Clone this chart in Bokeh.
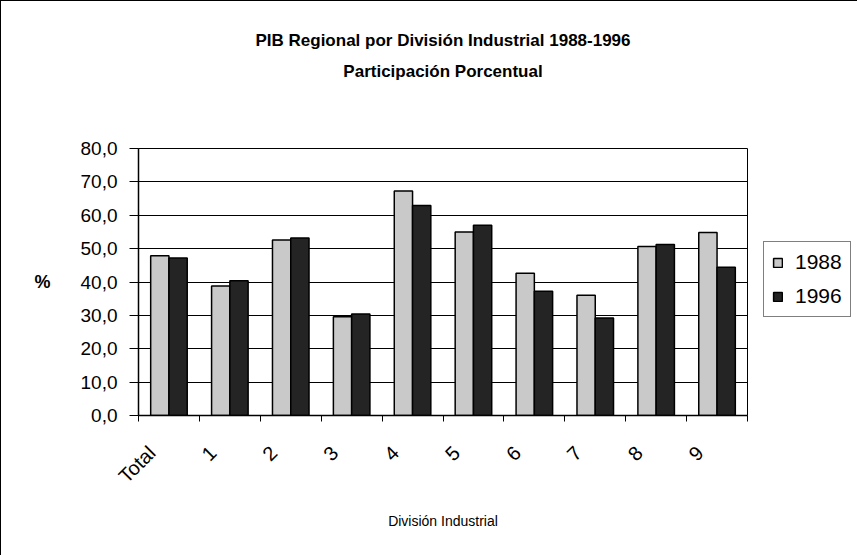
from bokeh.plotting import figure
from bokeh.models import (Range1d, FixedTicker, Title, Legend, LegendItem, ColumnDataSource)
from bokeh.embed import file_html
from bokeh.resources import INLINE
import math

categories = ["Total", "1", "2", "3", "4", "5", "6", "7", "8", "9"]
v1988 = [47.9, 38.8, 52.6, 29.6, 67.3, 55.0, 42.6, 36.0, 50.6, 54.8]
v1996 = [47.2, 40.4, 53.2, 30.4, 62.9, 57.0, 37.2, 29.2, 51.2, 44.4]
y_ticks = [0, 10, 20, 30, 40, 50, 60, 70, 80]
y_tick_labels = ["0,0", "10,0", "20,0", "30,0", "40,0", "50,0", "60,0", "70,0", "80,0"]

FONT = "Liberation Sans"
n = len(categories)
centers = [i + 0.5 for i in range(n)]
bw = 0.30
LABEL_SHIFT = 0.28  # rotated labels end a little left of the category centre

ML, MR, MT, MB = 137, 111, 147, 141
p = figure(frame_width=609, frame_height=267, output_backend="svg", toolbar_location=None,
           x_range=Range1d(0, n), y_range=Range1d(0, 80),
           min_border_left=ML, min_border_right=MR, min_border_top=MT, min_border_bottom=MB,
           styles={"border-top": "1px solid black", "border-left": "1px solid black"})
p.background_fill_color = "white"
p.border_fill_color = "white"
p.outline_line_color = "black"
p.outline_line_width = 1

src = ColumnDataSource(dict(x88=[c - bw / 2 for c in centers], x96=[c + bw / 2 for c in centers],
                            v88=v1988, v96=v1996))
r1 = p.vbar(x="x88", top="v88", width=bw, source=src, fill_color="#c9c9c9",
            line_color="black", line_width=1.5)
r2 = p.vbar(x="x96", top="v96", width=bw, source=src, fill_color="#242424",
            line_color="black", line_width=1.5)

# x axis
label_pos = [c - LABEL_SHIFT for c in centers]
xa = p.xaxis[0]
xa.ticker = FixedTicker(ticks=label_pos, minor_ticks=list(range(n + 1)))
xa.major_label_overrides = {c: lab for c, lab in zip(label_pos, categories)}
xa.major_tick_line_color = None
xa.minor_tick_line_color = "black"
xa.minor_tick_out = 6
xa.minor_tick_in = 0
xa.major_label_orientation = math.pi / 4
xa.major_label_text_font = FONT
xa.major_label_text_font_size = "20px"
xa.major_label_text_color = "black"
xa.major_label_standoff = 28
xa.axis_line_color = "black"
xa.axis_line_width = 1.5
xa.axis_label = "División Industrial"
xa.axis_label_text_font = FONT
xa.axis_label_text_font_size = "14px"
xa.axis_label_text_font_style = "normal"
xa.axis_label_text_color = "black"
xa.axis_label_standoff = 15

# y axis
ya = p.yaxis[0]
ya.ticker = FixedTicker(ticks=y_ticks, minor_ticks=[])
ya.major_label_overrides = {t: s for t, s in zip(y_ticks, y_tick_labels)}
ya.major_tick_out = 9
ya.major_tick_in = 0
ya.major_tick_line_color = "black"
ya.major_label_text_font = FONT
ya.major_label_text_font_size = "19px"
ya.major_label_text_color = "black"
ya.major_label_standoff = 12
ya.axis_line_color = "black"
ya.axis_line_width = 1.5
ya.axis_label = "%"
ya.axis_label_orientation = "horizontal"
ya.axis_label_text_font = FONT
ya.axis_label_text_font_size = "18px"
ya.axis_label_text_font_style = "bold"
ya.axis_label_text_color = "black"
ya.axis_label_standoff = 27

p.xgrid.grid_line_color = None
p.ygrid.grid_line_color = "black"
p.ygrid.grid_line_width = 1

# titles: a blank spacer nearest the plot, then the second line, then the first
p.add_layout(Title(text=" ", standoff=42, text_font=FONT, text_font_size="17px"), "above")
p.add_layout(Title(text="Participación Porcentual", align="center", text_font=FONT,
                   text_font_style="bold", text_font_size="17px", text_color="black"), "above")
p.add_layout(Title(text="PIB Regional por División Industrial 1988-1996", align="center",
                   text_font=FONT, text_font_style="bold", text_font_size="17px",
                   text_color="black"), "above")

legend = Legend(items=[LegendItem(label="1988", renderers=[r1]),
                       LegendItem(label="1996", renderers=[r2])],
                location=(16, 98))
legend.label_text_font = FONT
legend.label_text_font_size = "21px"
legend.label_text_color = "black"
legend.glyph_width = 11
legend.glyph_height = 11
legend.label_height = 21
legend.label_standoff = 12
legend.spacing = 10
legend.padding = 8
legend.margin = 0
legend.border_line_color = "black"
legend.border_line_width = 1
legend.background_fill_color = "white"
legend.background_fill_alpha = 1
p.add_layout(legend, "right")

open("out.html", "w").write(file_html(p, INLINE))
